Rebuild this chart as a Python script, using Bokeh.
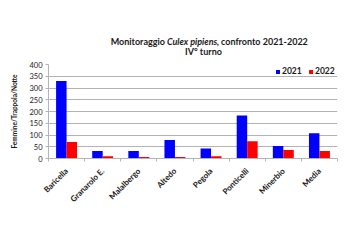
import math
from bokeh.plotting import figure
from bokeh.layouts import column
from bokeh.models import (Range1d, LinearAxis, FixedTicker,
                          CustomJSTickFormatter, ColumnDataSource, Legend, LegendItem)
from bokeh.core.properties import value
from bokeh.embed import file_html
from bokeh.resources import INLINE

categories = ["Baricella", "Granarolo E.", "Malalbergo", "Altedo", "Pegola",
              "Ponticelli", "Minerbio", "Media"]
values_2021 = [330, 32, 32, 79, 43, 183, 53, 107]
values_2022 = [70, 10, 6, 6, 10, 73, 36, 32]
series_names = ["2021", "2022"]
y_ticks = [0, 50, 100, 150, 200, 250, 300, 350, 400]
title_parts = ["Monitoraggio", "Culex pipiens", ", confronto 2021-2022"]
subtitle = "IV° turno"

FONT = "Lato"
GRID = "#b4b4b4"
TXT = "#1a1a1a"
BW = 0.29
TITLE_H = 58

# ---------------- title strip ----------------
t = figure(width=360, height=TITLE_H, x_range=Range1d(0, 360), y_range=Range1d(0, TITLE_H),
           output_backend="svg", toolbar_location=None, x_axis_location=None,
           y_axis_location=None, min_border=0)
t.outline_line_color = None
t.grid.visible = False
tkw = dict(text_font=value(FONT), text_font_size="9px", text_color=TXT,
           text_baseline="middle")
y1 = TITLE_H - 41
y2 = TITLE_H - 51
t.text(x=[145], y=[y1], text=[title_parts[0]], text_align="right",
       text_font_style="bold", **tkw)
t.text(x=[147.5], y=[y1], text=[title_parts[1]], text_align="left",
       text_font_style="bold italic", **tkw)
t.text(x=[209.5], y=[y1], text=[title_parts[2]], text_align="left",
       text_font_style="bold", **tkw)
t.text(x=[193], y=[y2], text=[subtitle], text_align="center",
       text_font_style="bold", **tkw)

# ---------------- chart ----------------
n = len(categories)
centers = [i + 0.5 for i in range(n)]
src = ColumnDataSource(dict(
    cat=categories,
    x1=[c - BW / 2 for c in centers], x2=[c + BW / 2 for c in centers],
    v2021=values_2021, v2022=values_2022))

p = figure(width=360, height=240 - TITLE_H, x_range=Range1d(0, n),
           y_range=Range1d(0, 400), output_backend="svg", toolbar_location=None,
           x_axis_location=None,
           min_border_left=48, min_border_right=23, min_border_top=64 - TITLE_H,
           min_border_bottom=82)
p.outline_line_color = None
p.background_fill_color = "white"
p.border_fill_color = "white"

r1 = p.vbar(x="x1", top="v2021", width=BW, source=src,
            fill_color="#0000ff", line_color=None)
r2 = p.vbar(x="x2", top="v2022", width=BW, source=src,
            fill_color="#ff0000", line_color=None)

# y axis
p.yaxis.ticker = FixedTicker(ticks=y_ticks)
p.yaxis.axis_line_color = GRID
p.yaxis.major_tick_line_color = GRID
p.yaxis.major_tick_out = 3
p.yaxis.major_tick_in = 0
p.yaxis.minor_tick_line_color = None
p.yaxis.major_label_text_font = FONT
p.yaxis.major_label_text_font_size = "7.5px"
p.yaxis.major_label_text_color = TXT
p.yaxis.major_label_standoff = 3
p.yaxis.axis_label = "Femmine/Trappola/Notte"
p.yaxis.axis_label_text_font = FONT
p.yaxis.axis_label_text_font_size = "6.5px"
p.yaxis.axis_label_text_font_style = "bold"
p.yaxis.axis_label_text_color = TXT
p.yaxis.axis_label_standoff = 8

p.ygrid.ticker = FixedTicker(ticks=y_ticks)
p.ygrid.grid_line_color = GRID
p.xgrid.grid_line_color = None

# boundary tick axis
bnd_axis = LinearAxis(ticker=FixedTicker(ticks=list(range(n + 1))),
                      formatter=CustomJSTickFormatter(code="return ''"))
bnd_axis.axis_line_color = GRID
bnd_axis.major_tick_line_color = GRID
bnd_axis.major_tick_out = 3
bnd_axis.major_tick_in = 0
bnd_axis.minor_tick_line_color = None
bnd_axis.major_label_standoff = 0
bnd_axis.major_label_text_font_size = "1px"

# category label axis
cat_axis = LinearAxis(ticker=FixedTicker(ticks=centers),
                      major_label_overrides={c: name for c, name in zip(centers, categories)})
cat_axis.axis_line_color = None
cat_axis.major_tick_line_color = None
cat_axis.minor_tick_line_color = None
cat_axis.major_label_orientation = math.pi / 4
cat_axis.major_label_text_font = FONT
cat_axis.major_label_text_font_size = "8px"
cat_axis.major_label_text_font_style = "bold"
cat_axis.major_label_text_color = TXT
cat_axis.major_label_standoff = 2

p.add_layout(bnd_axis, "below")
p.add_layout(cat_axis, "below")

legend = Legend(items=[LegendItem(label=series_names[0], renderers=[r1]),
                       LegendItem(label=series_names[1], renderers=[r2])],
                orientation="horizontal", location="top_right")
legend.background_fill_alpha = 0
legend.border_line_color = None
legend.padding = 0
legend.margin = 2
legend.spacing = 6
legend.glyph_width = 5
legend.glyph_height = 5
legend.label_standoff = 2
legend.label_height = 8
legend.label_text_font = FONT
legend.label_text_font_size = "8.5px"
legend.label_text_font_style = "bold"
legend.label_text_color = TXT
p.add_layout(legend, "center")

layout = column(t, p, spacing=0)
open("out.html", "w").write(file_html(layout, INLINE))
